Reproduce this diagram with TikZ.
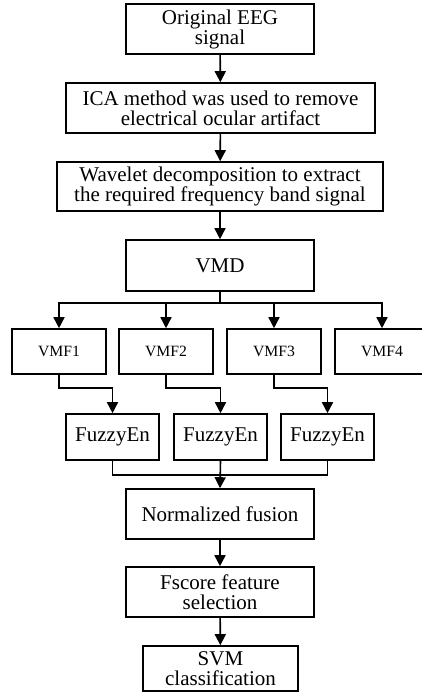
\documentclass[tikz,border=0pt]{standalone}
\usepackage{fontspec}
\setmainfont{Liberation Serif}
\usetikzlibrary{arrows.meta}

\tikzset{
  box/.style={draw, line width=1.6pt, inner sep=0pt, align=center,
    font=\fontsize{21}{20}\selectfont},
  wide/.style={box, minimum width=188pt, minimum height=50pt},
  modebox/.style={box, minimum width=94pt, minimum height=45pt,
    font=\fontsize{15.7}{17}\selectfont},
  fuzzbox/.style={box, minimum width=93pt, minimum height=46pt},
  link/.style={line width=1.6pt},
  arr/.style={link, -{Triangle[width=11pt,length=11pt]}}
}

\begin{document}
\begin{tikzpicture}[x=1pt,y=-1pt]
  \useasboundingbox (0,0) rectangle (421,693);

  % main pipeline
  \node[wide] (eeg) at (220,29) {Original EEG\\signal};
  \node[box, minimum width=309pt, minimum height=50pt] (ica) at (220.5,108)
    {ICA method was used to remove\\electrical ocular artifact};
  \node[box, minimum width=326pt, minimum height=49pt] (wav) at (220,186.5)
    {Wavelet decomposition to extract\\the required frequency band signal};
  \node[wide, minimum height=51pt] (vmd) at (220,265.5) {VMD};

  % decomposed modes
  \node[modebox] (m1) at (59,351.5) {VMF1};
  \node[modebox] (m2) at (166,351.5) {VMF2};
  \node[modebox] (m3) at (274,351.5) {VMF3};
  \node[modebox] (m4) at (382,351.5) {VMF4};

  % fuzzy entropy of each mode
  \node[fuzzbox] (f1) at (112.5,437) {FuzzyEn};
  \node[fuzzbox] (f2) at (220.5,437) {FuzzyEn};
  \node[fuzzbox] (f3) at (327.5,437) {FuzzyEn};

  % fusion and classification
  \node[wide] (fus) at (220,514) {Normalized fusion};
  \node[wide] (fsc) at (220,592) {Fscore feature\\selection};
  \node[box, minimum width=155pt, minimum height=45pt] (svm) at (220.5,668.5)
    {SVM\\classification};

  \draw[arr] (eeg) -- (ica);
  \draw[arr] (ica) -- (wav);
  \draw[arr] (wav) -- (vmd);

  % split into modes
  \coordinate (split) at (220,303);
  \draw[link] (vmd.south) -- (split);
  \draw[arr] (split) -| (m1.north);
  \draw[arr] (split) -| (m2.north);
  \draw[arr] (split) -| (m3.north);
  \draw[arr] (split) -| (m4.north);

  % modes to entropy
  \draw[arr] (m1.south) -- ++(0,13) -| (f1.north);
  \draw[arr] (m2.south) -- ++(0,13) -| (f2.north);
  \draw[arr] (m3.south) -- ++(0,13) -| (f3.north);

  % merge entropies
  \draw[link] (f1.south) -- ++(0,14) -| (f3.south);
  \draw[arr] (f2.south) -- (fus.north);

  \draw[arr] (fus) -- (fsc);
  \draw[arr] (fsc) -- (svm);
\end{tikzpicture}
\end{document}
